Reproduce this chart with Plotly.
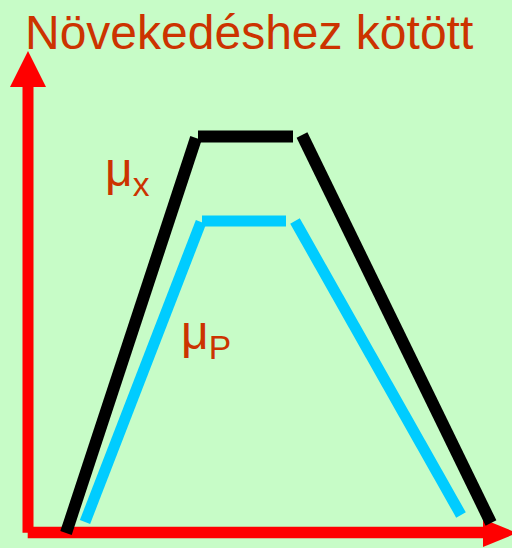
import plotly.graph_objects as go

# Chart coordinate system: x to the right, y upward (0..512, 0..548)
BG = "#C7FCC7"
TEXT_COLOR = "#CC3300"

# Axes (red arrows)
axis_v_x = [28, 28]
axis_v_y = [15.3, 461]
axis_h_x = [27.7, 483]
axis_h_y = [15.5, 15.5]
arrow_up_x = [10, 46, 28, 10]
arrow_up_y = [461, 461, 497, 461]
arrow_right_x = [483, 483, 517, 483]
arrow_right_y = [29, 1, 15, 29]

# mu_x (black trapezoid): rise, plateau, fall, segments separated by None
mu_x_t = [66, 196, None, 198, 293, None, 302, 491]
mu_x_v = [15, 410, None, 411.5, 411.5, None, 413, 25]

# mu_P (cyan trapezoid)
mu_p_t = [85, 201, None, 202, 286, None, 295, 461]
mu_p_v = [26, 326, None, 327, 327, None, 327, 33]

title_text = "Növekedéshez kötött"
label_mx = "μ<sub>x</sub>"
label_mp = "μ<sub>P</sub>"

fig = go.Figure()

red = "#FF0000"
fig.add_trace(go.Scatter(x=axis_v_x, y=axis_v_y, mode="lines",
                         line=dict(color=red, width=11), hoverinfo="skip"))
fig.add_trace(go.Scatter(x=axis_h_x, y=axis_h_y, mode="lines",
                         line=dict(color=red, width=11.6), hoverinfo="skip"))
fig.add_trace(go.Scatter(x=arrow_up_x, y=arrow_up_y, mode="lines", fill="toself",
                         fillcolor=red, line=dict(color=red, width=0), hoverinfo="skip"))
fig.add_trace(go.Scatter(x=arrow_right_x, y=arrow_right_y, mode="lines", fill="toself",
                         fillcolor=red, line=dict(color=red, width=0), hoverinfo="skip"))

fig.add_trace(go.Scatter(x=mu_x_t, y=mu_x_v, mode="lines", connectgaps=False,
                         line=dict(color="#000000", width=12), hoverinfo="skip"))
fig.add_trace(go.Scatter(x=mu_p_t, y=mu_p_v, mode="lines", connectgaps=False,
                         line=dict(color="#00CCFF", width=11), hoverinfo="skip"))

font = dict(family="Liberation Sans, Arial, sans-serif", color=TEXT_COLOR)
fig.add_annotation(x=23, y=544.4, text=title_text, showarrow=False,
                   xanchor="left", yanchor="top", font=dict(size=48, **font))
fig.add_annotation(x=103, y=407.4, text=label_mx, showarrow=False,
                   xanchor="left", yanchor="top", font=dict(size=48, **font))
fig.add_annotation(x=179, y=244.4, text=label_mp, showarrow=False,
                   xanchor="left", yanchor="top", font=dict(size=48, **font))

fig.update_layout(
    width=512, height=548,
    margin=dict(l=0, r=0, t=0, b=0),
    paper_bgcolor=BG, plot_bgcolor=BG,
    showlegend=False,
    xaxis=dict(range=[0, 512], visible=False, fixedrange=True),
    yaxis=dict(range=[0, 548], visible=False, fixedrange=True),
)

fig.write_html("out.html", config={"displayModeBar": False},
               post_script="document.body.style.margin='0';document.body.style.background='" + BG + "';")
